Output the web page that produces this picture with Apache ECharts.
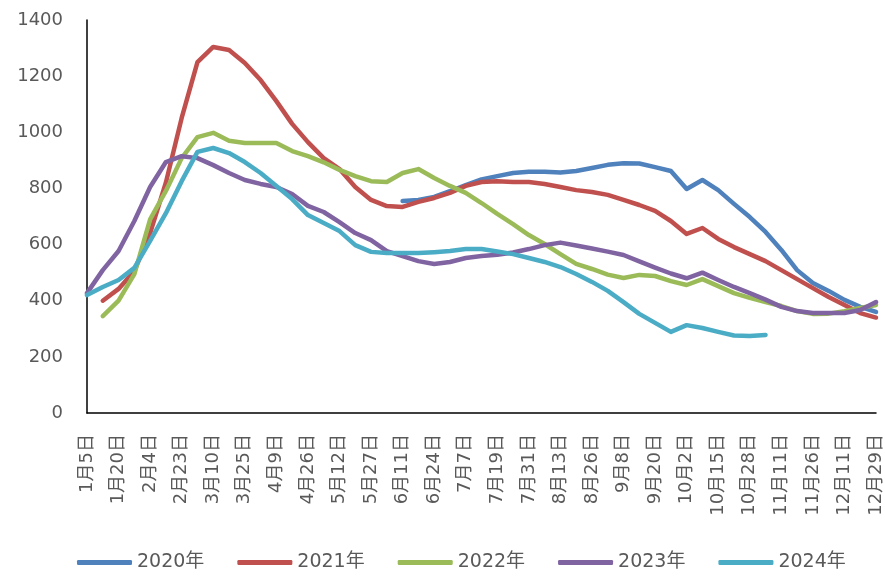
<!DOCTYPE html>
<html>
<head>
<meta charset="utf-8">
<script src="https://cdn.jsdelivr.net/npm/echarts@6/dist/echarts.min.js"></script>
<style>
html,body{margin:0;padding:0;background:#fff;}
#c{width:885px;height:576px;}
</style>
</head>
<body>
<div id="c"></div>
<script>
var categories = ['1月5日','1月12日','1月20日','1月27日','2月4日','2月13日','2月23日','3月2日','3月10日','3月17日','3月25日','4月1日','4月9日','4月16日','4月26日','5月5日','5月12日','5月19日','5月27日','6月3日','6月11日','6月17日','6月24日','6月30日','7月7日','7月13日','7月19日','7月25日','7月31日','8月6日','8月13日','8月19日','8月26日','9月1日','9月8日','9月14日','9月20日','9月26日','10月2日','10月9日','10月15日','10月22日','10月28日','11月4日','11月11日','11月18日','11月26日','12月3日','12月11日','12月20日','12月29日'];

var seriesNames = ['2020年','2021年','2022年','2023年','2024年'];

var s2020 = [null,null,null,null,null,null,null,null,null,null,null,null,null,null,null,null,null,null,null,null,
  755,759,770,790,812,832,844,855,859,859,857,862,873,884,890,889,876,862,798,830,794,745,698,645,581,509,463,435,403,378,360];

var s2021 = [null,400,442,506,641,821,1051,1250,1304,1293,1247,1186,1111,1030,965,908,869,805,759,737,734,752,766,784,809,823,826,823,823,816,805,794,787,777,759,741,720,684,638,659,620,591,566,541,509,477,445,413,385,356,340];

var s2022 = [null,345,400,495,690,791,908,983,998,970,962,962,962,933,915,893,866,844,826,823,855,869,837,809,784,748,709,673,634,602,566,531,513,493,481,492,488,470,456,477,452,427,410,395,381,363,353,354,363,374,385];

var s2023 = [427,509,577,684,805,894,915,908,883,855,830,816,805,780,738,716,680,641,616,577,559,541,531,538,552,559,564,572,584,598,607,597,586,575,563,540,518,497,480,500,474,449,427,404,378,363,356,356,356,367,395];

var s2024 = [420,449,474,517,613,712,826,930,944,926,894,855,809,762,705,677,648,598,574,570,570,570,573,577,584,584,575,566,552,538,520,495,467,435,395,353,321,289,313,303,289,276,274,278,null,null,null,null,null,null,null];

var yTicks = {min: 0, max: 1400, interval: 200};

var colors = ['#4F81BD','#C0504D','#9BBB59','#8064A2','#4BACC6'];
var allData = [s2020, s2021, s2022, s2023, s2024];
var font = 'DejaVu Sans, Noto Sans CJK SC, sans-serif';

var chart = echarts.init(document.getElementById('c'));
chart.setOption({
  animation: false,
  color: colors,
  grid: {left: 87, right: 5, top: 20, bottom: 163, containLabel: false},
  legend: {
    data: seriesNames,
    left: 77,
    top: 553,
    padding: 0,
    itemWidth: 55,
    itemHeight: 5,
    itemGap: 33,
    icon: 'roundRect',
    textStyle: {fontFamily: font, fontSize: 19, color: '#595959'}
  },
  xAxis: {
    type: 'category',
    data: categories,
    boundaryGap: false,
    axisLine: {show: true, lineStyle: {color: '#000', width: 1.5}},
    axisTick: {show: false},
    splitLine: {show: false},
    axisLabel: {
      interval: 1,
      rotate: 90,
      margin: 21,
      fontFamily: font,
      fontSize: 18,
      color: '#595959'
    }
  },
  yAxis: {
    type: 'value',
    min: yTicks.min,
    max: yTicks.max,
    interval: yTicks.interval,
    axisLine: {show: true, lineStyle: {color: '#000', width: 1.5}},
    axisTick: {show: false},
    splitLine: {show: false},
    axisLabel: {
      margin: 24,
      fontFamily: font,
      fontSize: 18,
      color: '#595959',
      formatter: function (v) { return String(v); }
    }
  },
  series: seriesNames.map(function (n, i) {
    return {
      name: n,
      type: 'line',
      data: allData[i],
      symbol: 'none',
      smooth: false,
      connectNulls: false,
      lineStyle: {width: 4.5, color: colors[i], cap: 'round', join: 'round'},
      itemStyle: {color: colors[i]}
    };
  })
});
</script>
</body>
</html>
